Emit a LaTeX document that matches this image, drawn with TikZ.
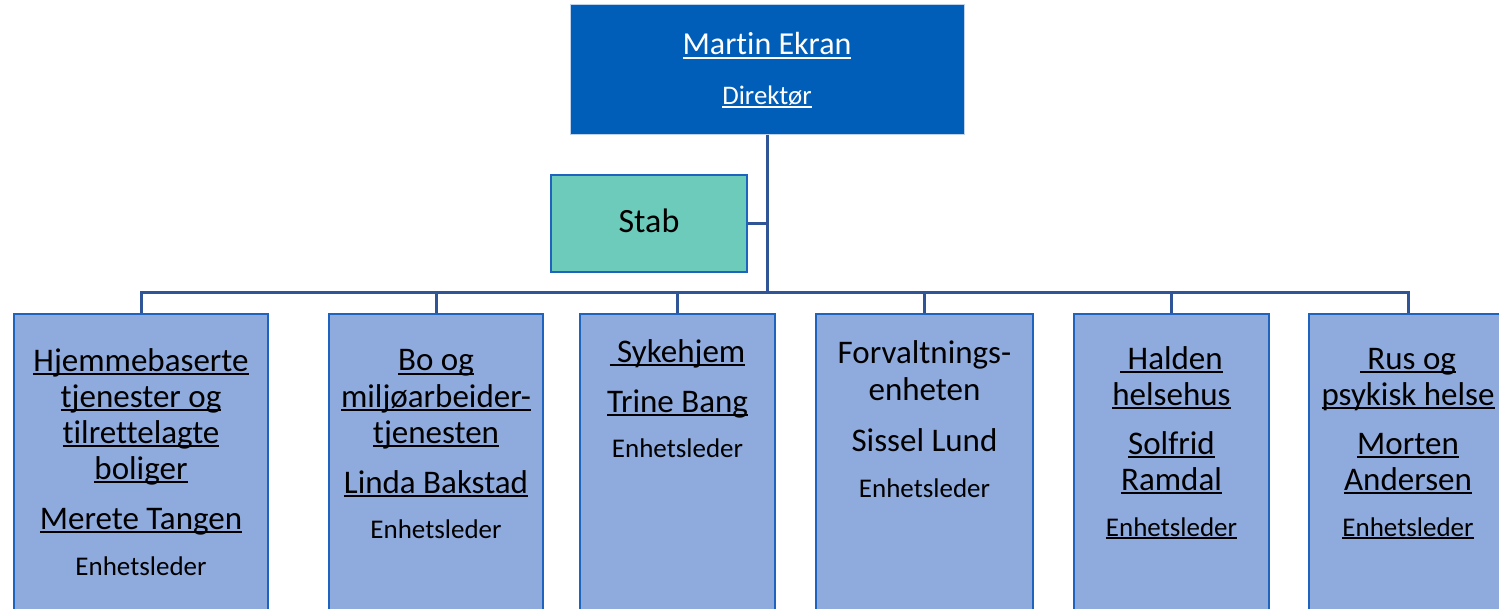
\documentclass[tikz,border=0pt]{standalone}
\usepackage{fontspec}
\setmainfont{Carlito}[Ligatures=NoCommon]
\newcommand\myul[1]{\setbox0\hbox{#1}\rlap{\rule[-0.11em]{\wd0}{0.055em}}\box0}
\definecolor{topfill}{RGB}{0,94,184}
\definecolor{topline}{RGB}{190,210,235}
\definecolor{stabfill}{RGB}{108,203,187}
\definecolor{boxline}{RGB}{30,100,190}
\definecolor{unitfill}{RGB}{143,170,220}
\definecolor{connline}{RGB}{47,85,151}
\begin{document}
\begin{tikzpicture}[x=0.5pt,y=-0.5pt,
  topbox/.style={rectangle, fill=topfill, draw=topline, line width=0.5pt, inner sep=0pt},
  stabbox/.style={rectangle, fill=stabfill, draw=boxline, line width=1.4pt, inner sep=0pt},
  unitbox/.style={rectangle, fill=unitfill, draw=boxline, line width=1.4pt, inner sep=0pt},
  conn/.style={draw=connline, line width=1.5pt},
  big/.style={font=\fontsize{16.5}{18}\selectfont, align=center, anchor=base, inner sep=0pt},
  small/.style={font=\fontsize{13.5}{16}\selectfont, align=center, anchor=base, inner sep=0pt}]
\clip (0,0) rectangle (1499,609);
% boxes
\node[topbox, minimum width=197pt, minimum height=65pt] (dir) at (767,70) {};
\node[stabbox, minimum width=98pt, minimum height=48.5pt] (stab) at (649,223.5) {};
\node[unitbox, minimum width=127pt, minimum height=165pt] (c1) at (141,479) {};
\node[unitbox, minimum width=107pt, minimum height=165pt] (c2) at (436,479) {};
\node[unitbox, minimum width=97.5pt, minimum height=165pt] (c3) at (677.5,479) {};
\node[unitbox, minimum width=108.5pt, minimum height=165pt] (c4) at (924.5,479) {};
\node[unitbox, minimum width=97.5pt, minimum height=165pt] (c5) at (1171.5,479) {};
\node[unitbox, minimum width=99pt, minimum height=165pt] (c6) at (1408,479) {};
% connectors
\coordinate (bus) at (767,293);
\draw[conn] (dir.south) -- (dir.south |- bus);
\draw[conn] (stab.east) -- (stab.east -| dir.south);
\draw[conn] (c1.north) |- (bus) -| (c6.north);
\draw[conn] (c2.north) -- (c2.north |- bus);
\draw[conn] (c3.north) -- (c3.north |- bus);
\draw[conn] (c4.north) -- (c4.north |- bus);
\draw[conn] (c5.north) -- (c5.north |- bus);
% texts
\node[font=\fontsize{16}{18}\selectfont, anchor=base, inner sep=0pt, text=white] (t0a) at (767,55) {\myul{Martin Ekran}};
\node[font=\fontsize{13.4}{16}\selectfont, anchor=base, inner sep=0pt, text=white] (t0b) at (767,105) {\myul{Direktør}};
\node[font=\fontsize{17}{18}\selectfont, anchor=base, inner sep=0pt] (ts) at (649,233) {Stab};
% unit 1
\node[big] (t1a) at (141,479) {\myul{Hjemmebaserte}\\\myul{tjenester og}\\\myul{tilrettelagte}\\\myul{boliger}};
\node[big] (t1b) at (141,529) {\myul{Merete Tangen}};
\node[small] (t1c) at (141,575) {Enhetsleder};
% unit 2
\node[big] (t2a) at (436,443) {\myul{Bo og}\\\myul{miljøarbeider-}\\\myul{tjenesten}};
\node[big] (t2b) at (436,493) {\myul{Linda Bakstad}};
\node[small] (t2c) at (436,538) {Enhetsleder};
% unit 3
\node[big] (t3a) at (677.5,362) {\myul{\ Sykehjem}};
\node[big] (t3b) at (677.5,412) {\myul{Trine Bang}};
\node[small] (t3c) at (677.5,457) {Enhetsleder};
% unit 4
\node[big] (t4a) at (924.5,400) {Forvaltnings-\\enheten};
\node[big] (t4b) at (924.5,451) {Sissel Lund};
\node[small] (t4c) at (924.5,497) {Enhetsleder};
% unit 5
\node[big] (t5a) at (1171.5,405) {\myul{\ Halden}\\\myul{helsehus}};
\node[big] (t5b) at (1171.5,490) {\myul{Solfrid}\\\myul{Ramdal}};
\node[small] (t5c) at (1171.5,536) {\myul{Enhetsleder}};
% unit 6
\node[big] (t6a) at (1408,405) {\myul{\ Rus og}\\\myul{psykisk helse}};
\node[big] (t6b) at (1408,490) {\myul{Morten}\\\myul{Andersen}};
\node[small] (t6c) at (1408,536) {\myul{Enhetsleder}};
\end{tikzpicture}
\end{document}
